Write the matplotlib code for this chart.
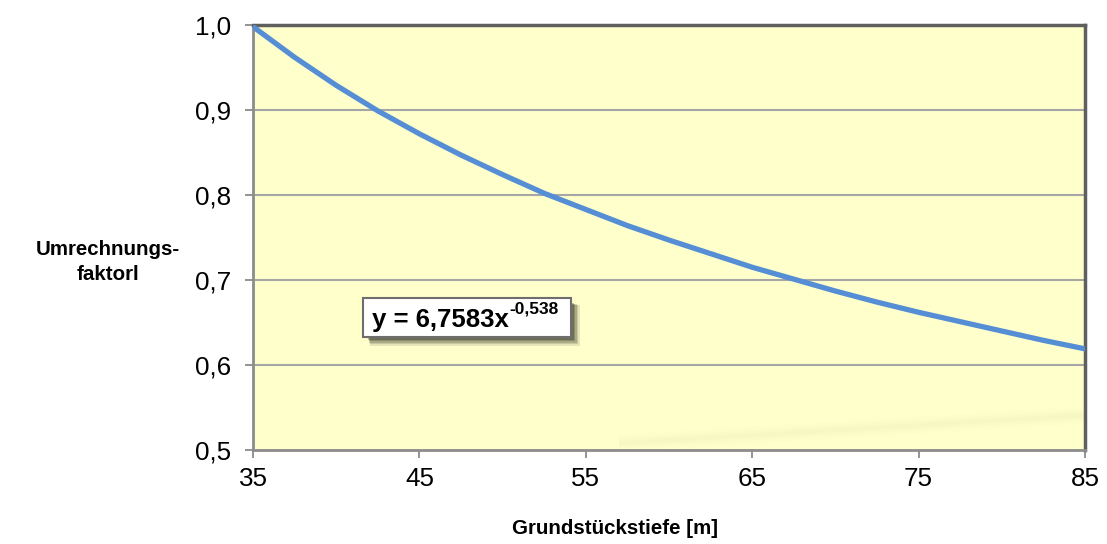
import matplotlib
matplotlib.use("Agg")
import matplotlib.pyplot as plt
import numpy as np

depth = [35, 37.5, 40, 42.5, 45, 47.5, 50, 52.5, 55, 57.5, 60, 62.5, 65, 67.5, 70, 72.5, 75, 77.5, 80, 82.5, 85]
factor = [0.998, 0.962, 0.929, 0.899, 0.872, 0.847, 0.824, 0.802, 0.783, 0.764, 0.747, 0.731, 0.715, 0.701, 0.687, 0.674, 0.662, 0.651, 0.640, 0.629, 0.619]
x_ticks = [35, 45, 55, 65, 75, 85]
y_ticks = [0.5, 0.6, 0.7, 0.8, 0.9, 1.0]
y_labels = ["0,5", "0,6", "0,7", "0,8", "0,9", "1,0"]
equation = "y = 6,7583x"
exponent = "-0,538"

plt.rcParams['font.family'] = ['Liberation Sans', 'DejaVu Sans']

fig = plt.figure(figsize=(11.07, 5.44), dpi=100)
ax = fig.add_axes([253/1107, 1-450/544, (1085-253)/1107, (450-25)/544])
ax.set_facecolor('#ffffcc')

ax.set_xlim(35, 85)
ax.set_ylim(0.5, 1.0)
ax.set_xticks(x_ticks)
ax.set_xticklabels([str(v) for v in x_ticks])
ax.set_yticks(y_ticks)
ax.set_yticklabels(y_labels)
ax.tick_params(axis='both', labelsize=18.7, color='#808080', length=6, width=1.2, direction='out')
ax.tick_params(axis='y', pad=10)
ax.tick_params(axis='x', pad=6)

for y in y_ticks[1:-1]:
    ax.axhline(y, color='#a6a6a6', lw=1.5, zorder=1)

for s in ['left', 'bottom']:
    ax.spines[s].set_color('#8c8c8c')
    ax.spines[s].set_linewidth(2)
for s in ['top', 'right']:
    ax.spines[s].set_color('#5f5f5f')
    ax.spines[s].set_linewidth(2.5)

# faint shadow near bottom right
for w, a in [(12, 0.012), (7, 0.018), (3, 0.022)]:
    ax.plot([57, 85], [0.508, 0.541], color='#808060', lw=w, alpha=a, solid_capstyle='butt', zorder=1)

ax.plot(depth, factor, color='#558ed5', lw=3.8, zorder=3, solid_capstyle='round')

fig.text(615/1107, 1-528/544, "Grundstückstiefe [m]", ha='center', va='center', fontsize=14.8, fontweight='bold')
fig.text(108/1107, 1-262/544, "Umrechnungs-\nfaktorl", ha='center', va='center', fontsize=14.8, fontweight='bold', linespacing=1.4)

# equation box
bx0, by0, bw, bh = 363, 298, 208, 39
rect_ax = [bx0/1107, 1-(by0+bh)/544, bw/1107, bh/544]
for i, a in enumerate([0.12, 0.15, 0.2, 0.25, 0.3, 0.35]):
    off = 8 - i
    grow = (5 - i) * 0.6
    sh = plt.Rectangle(((bx0 + off - grow + 2)/1107, 1-(by0+bh+off+grow-2)/544),
                       (bw + 2*grow - 4)/1107, (bh + 2*grow - 4)/544,
                       transform=fig.transFigure, facecolor='#2e2e22', edgecolor='none', alpha=a, zorder=4)
    fig.patches.append(sh)
box = plt.Rectangle((rect_ax[0], rect_ax[1]), rect_ax[2], rect_ax[3], transform=fig.transFigure,
                    facecolor='white', edgecolor='#6e6e6e', lw=1.5, zorder=5)
fig.patches.append(box)
t = fig.text((bx0+9)/1107, 1-(by0+bh/2+3)/544, equation, ha='left', va='center', fontsize=18.5, fontweight='bold', zorder=6)
fig.canvas.draw()
bb = t.get_window_extent()
fig.text(bb.x1/1107 + 1/1107, 1-(by0+11)/544, exponent, ha='left', va='center', fontsize=12.5, fontweight='bold', zorder=6)

fig.savefig("out.png", dpi=100)
